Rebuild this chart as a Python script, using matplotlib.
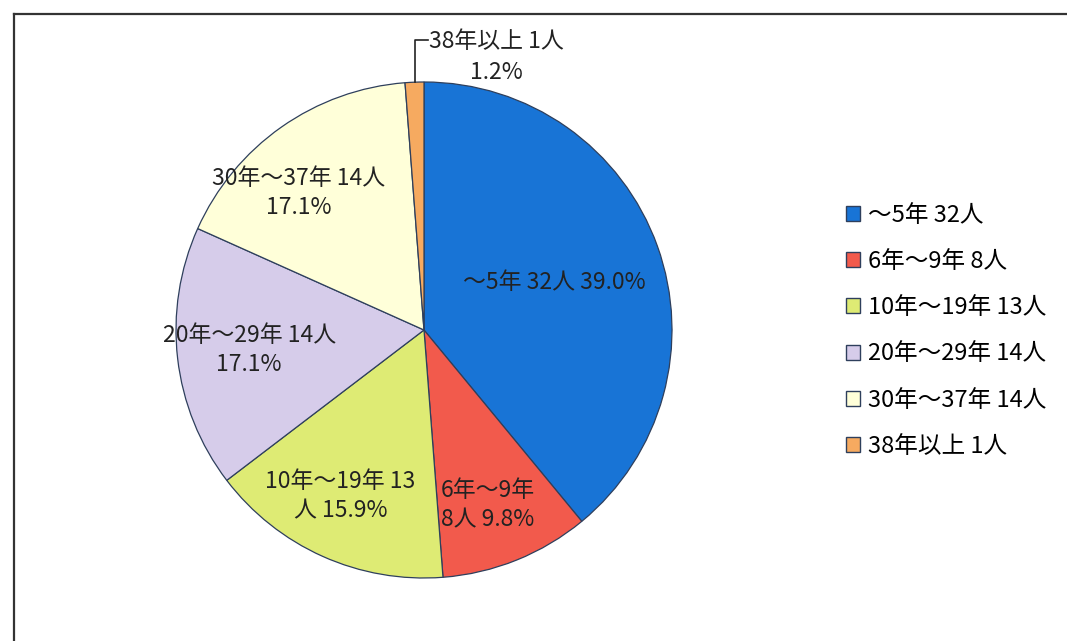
import numpy as np
import matplotlib
matplotlib.use("Agg")
import matplotlib.pyplot as plt
from matplotlib.lines import Line2D

plt.rcParams['font.family'] = ['Noto Sans CJK JP', 'DejaVu Sans']

# data
categories = ["～5年", "6年～9年", "10年～19年", "20年～29年", "30年～37年", "38年以上"]
counts = [32, 8, 13, 14, 14, 1]
pcts = ["39.0%", "9.8%", "15.9%", "17.1%", "17.1%", "1.2%"]
colors = ["#1874D6", "#F25A4C", "#DEEB74", "#D6CCEA", "#FFFFD9", "#F6AA60"]

# label text and placement (radius as fraction, angle offset in degrees)
label_texts = [
    "～5年 32人 39.0%",
    "6年～9年\n8人 9.8%",
    "10年～19年 13\n人 15.9%",
    "20年～29年 14人\n17.1%",
    "30年～37年 14人\n17.1%",
]
label_r = [0.56, 0.75, 0.75, 0.71, 0.75]
label_da = [0.4, -2.0, -2.6, 0.0, 7.3]

W, H = 1067, 641
fig = plt.figure(figsize=(W / 100, H / 100), dpi=100)

cx, cy, R = 424, 330, 248
half = 1.2 * R
ax = fig.add_axes([(cx - half) / W, (H - cy - half) / H, 2 * half / W, 2 * half / H])

wedges, _ = ax.pie(counts, colors=colors, startangle=90, counterclock=False,
                   wedgeprops=dict(edgecolor="#2E3F5C", linewidth=0.9))
ax.set_xlim(-1.2, 1.2)
ax.set_ylim(-1.2, 1.2)
ax.set_aspect("equal")
ax.axis("off")

FS = 16.5
for i, txt in enumerate(label_texts):
    w = wedges[i]
    mid = np.deg2rad((w.theta1 + w.theta2) / 2 + label_da[i])
    ax.text(label_r[i] * np.cos(mid), label_r[i] * np.sin(mid), txt,
            ha="center", va="center", fontsize=FS, color="#222222",
            linespacing=1.35, multialignment="center")

# small slice label with leader line
w = wedges[5]
mid = np.deg2rad((w.theta1 + w.theta2) / 2)
x0, y0 = np.cos(mid), np.sin(mid)
ax.plot([x0, x0, 0.016], [y0, 1.169, 1.169], color="#222222", lw=1.2, clip_on=False)
ax.text(0.29, 1.10, f"{categories[5]} {counts[5]}人\n{pcts[5]}",
        ha="center", va="center", fontsize=FS, color="#222222",
        linespacing=1.45, clip_on=False)

# legend
leg_labels = [f"{c} {n}人" for c, n in zip(categories, counts)]
handles = [plt.Rectangle((0, 0), 1, 1, facecolor=col, edgecolor="#2E3F5C", lw=1.0)
           for col in colors]
fig.legend(handles, leg_labels, loc="upper left",
           bbox_to_anchor=(846 / W, (H - 204) / H), frameon=False,
           fontsize=17, handlelength=0.6, handleheight=0.6,
           handletextpad=0.35, labelspacing=0.98, borderpad=0, borderaxespad=0)

# chart frame (scan crop shows top and left edge)
fig.add_artist(Line2D([14 / W, 1.0], [(H - 14) / H, (H - 14) / H],
                      transform=fig.transFigure, color="#333333", lw=1.6))
fig.add_artist(Line2D([14 / W, 14 / W], [0, (H - 14) / H],
                      transform=fig.transFigure, color="#333333", lw=1.6))

fig.savefig("out.png", dpi=100)
